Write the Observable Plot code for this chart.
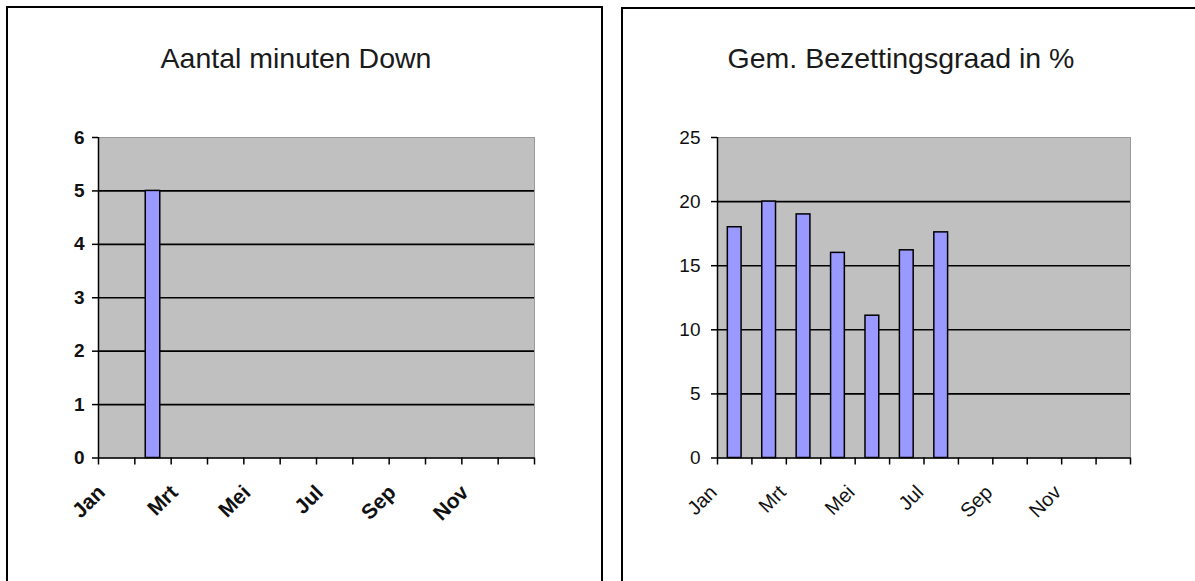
<!DOCTYPE html>
<html>
<head>
<meta charset="utf-8">
<script src="https://cdn.jsdelivr.net/npm/d3@7"></script>
<script src="https://cdn.jsdelivr.net/npm/@observablehq/plot@0.6"></script>
<style>
  html, body { margin: 0; padding: 0; background: #fff; width: 1195px; height: 581px; overflow: hidden; }
  body { position: relative; font-family: "Liberation Sans", Arial, sans-serif; }
  .panel { position: absolute; border: 2px solid #000; box-sizing: border-box; background: #fff; }
  .title { position: absolute; width: 600px; text-align: center; font-size: 28.5px; line-height: 28px; color: #1a1a1a; white-space: nowrap; }
  .chart { position: absolute; top: 0; }
</style>
</head>
<body>
<div class="panel" style="left:6px; top:6px; width:597px; height:700px;"></div>
<div class="panel" style="left:621px; top:7px; width:700px; height:700px;"></div>
<div class="title" style="left:-4px; top:44px;">Aantal minuten Down</div>
<div class="title" style="left:601px; top:44px;">Gem. Bezettingsgraad in %</div>
<div id="c1" class="chart" style="left:0px;"></div>
<div id="c2" class="chart" style="left:600px;"></div>
<script>
// ---- data ----
const months = ["Jan", "Feb", "Mrt", "Apr", "Mei", "Jun", "Jul", "Aug", "Sep", "Okt", "Nov", "Dec"];
const downMinutes = [0, 5, 0, 0, 0, 0, 0, null, null, null, null, null];
const occupancy = [18, 20, 19, 16, 11.1, 16.2, 17.6, null, null, null, null, null];
const downTicks = [0, 1, 2, 3, 4, 5, 6];
const occTicks = [0, 5, 10, 15, 20, 25];
const labelMonths = ["Jan", "Mrt", "Mei", "Jul", "Sep", "Nov"];

function makeChart({values, ticks, width, height, mL, mR, mT, mB, bold}) {
  const rows = months.map((m, i) => ({i, m, v: values[i]})).filter(d => d.v != null && d.v > 0);
  const step = (width - mL - mR) / months.length;
  const inset = step * 0.3;
  const yMax = ticks[ticks.length - 1];
  const labelPos = labelMonths.map(m => months.indexOf(m) + 0.5);
  const boundaries = d3.range(months.length + 1);
  const fw = bold ? "bold" : "normal";
  return Plot.plot({
    width, height,
    marginLeft: mL, marginRight: mR, marginTop: mT, marginBottom: mB,
    style: {fontFamily: "'Liberation Sans', Arial, sans-serif", fontSize: "17px", color: "#111", background: "transparent", overflow: "visible"},
    x: {type: "linear", domain: [0, months.length], axis: null, label: null},
    y: {domain: [0, yMax], axis: null, label: null},
    marks: [
      Plot.frame({fill: "#c0c0c0", stroke: "#9a9a9a", strokeWidth: 1}),
      Plot.ruleY(ticks.filter(t => t > 0 && t < yMax), {stroke: "#000", strokeWidth: 1.6}),
      Plot.rectY(rows, {x1: "i", x2: d => d.i + 1, y: "v", insetLeft: inset, insetRight: inset, fill: "#9999ff", stroke: "#000", strokeWidth: 1.5}),
      Plot.ruleX([0], {stroke: "#000", strokeWidth: 1.5}),
      Plot.ruleY([0], {stroke: "#000", strokeWidth: 1.5}),
      Plot.axisY({ticks, label: null, tickSize: 6, tickPadding: bold ? 8 : 11, fontSize: "19px", fontWeight: fw, stroke: "#000", strokeWidth: 1.5, tickFormat: d3.format("d")}),
      Plot.axisX({ticks: boundaries, label: null, tickSize: 7, tickFormat: () => "", stroke: "#000", strokeWidth: 1.5}),
      Plot.axisX({ticks: labelPos, label: null, tickSize: 0, tickPadding: 31, tickRotate: -45, dx: bold ? -15 : -21, fontSize: bold ? "21px" : "20px", fontWeight: fw, tickFormat: d => months[Math.floor(d)]})
    ]
  });
}

document.getElementById("c1").appendChild(makeChart({
  values: downMinutes, ticks: downTicks, width: 600, height: 581,
  mL: 98, mR: 66, mT: 137, mB: 581 - 457.5, bold: true
}));
document.getElementById("c2").appendChild(makeChart({
  values: occupancy, ticks: occTicks, width: 595, height: 581,
  mL: 117, mR: 65, mT: 137, mB: 581 - 457.5, bold: false
}));
</script>
</body>
</html>
